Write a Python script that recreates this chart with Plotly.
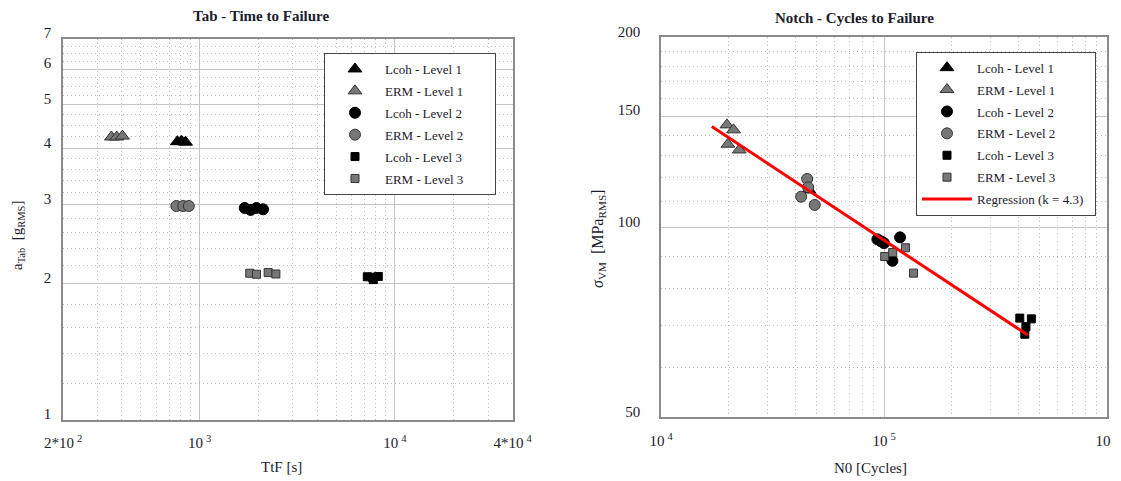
import math
import plotly.graph_objects as go

# Target picture size; the page body adds an 8px margin, so the figure is
# made smaller and all placements are expressed in picture pixels.
W, H = 1121, 481
OFF = 8
FW, FH = W - OFF, H - OFF


def fx(px):
    return (px - OFF) / FW


def fy(py):
    return 1 - (py - OFF) / FH


# ---------------- Data: Tab - Time to Failure ----------------
tab_lcoh1_t = [770, 808, 848]
tab_lcoh1_a = [4.14, 4.15, 4.13]
tab_erm1_t = [354, 377, 403]
tab_erm1_a = [4.24, 4.24, 4.26]
tab_lcoh2_t = [1703, 1829, 1957, 2115]
tab_lcoh2_a = [2.95, 2.92, 2.95, 2.93]
tab_erm2_t = [761, 825, 881]
tab_erm2_a = [2.98, 2.98, 2.98]
tab_lcoh3_t = [7222, 7660, 8225, 7752]
tab_lcoh3_a = [2.075, 2.07, 2.078, 2.045]
tab_erm3_t = [1807, 1957, 2245, 2459]
tab_erm3_a = [2.113, 2.102, 2.12, 2.105]

# ---------------- Data: Notch - Cycles to Failure ----------------
notch_lcoh1_n = [46090]
notch_lcoh1_s = [114.6]
notch_erm1_n = [19750, 21150, 19960, 22430]
notch_erm1_s = [145.3, 142.7, 135.4, 132.6]
notch_lcoh2_n = [93400, 97000, 100000, 118000, 109100]
notch_lcoh2_s = [95.7, 95.0, 94.4, 96.4, 88.5]
notch_erm2_n = [45230, 45710, 42500, 48930]
notch_erm2_s = [119.3, 115.7, 111.8, 108.5]
notch_lcoh3_n = [406400, 458000, 433000, 428000]
notch_lcoh3_s = [71.8, 71.6, 69.6, 67.7]
notch_erm3_n = [100700, 109400, 124800, 135600]
notch_erm3_s = [89.9, 91.2, 92.8, 84.6]
reg_n = [16900, 441000]
reg_s = [144.4, 67.5]

series_names = ["Lcoh - Level 1", "ERM - Level 1", "Lcoh - Level 2",
                "ERM - Level 2", "Lcoh - Level 3", "ERM - Level 3"]
reg_name = "Regression (k = 4.3)"

# tick labels
left_x_ticks = [200, 1000, 10000, 40000]
left_x_text = ["2*10\u2009<sup>2</sup>", "10\u2009<sup>3</sup>",
               "10\u2009<sup>4</sup>", "4*10\u2009<sup>4</sup>"]
left_y_ticks = [1, 2, 3, 4, 5, 6, 7]
right_x_ticks = [1e4, 1e5, 1e6]
right_x_text = ["10\u2009<sup>4</sup>", "10\u2009<sup>5</sup>", "10\u2009<sup>6</sup>"]
right_y_ticks = [50, 100, 150, 200]

FONT = "Liberation Serif"
TXT = "#1b1b2b"
BLACK = "#000000"
GRAY = "#777777"
EDGE = "#333333"

styles = [
    ("triangle-up", BLACK, BLACK, 12),
    ("triangle-up", GRAY, EDGE, 12),
    ("circle", BLACK, BLACK, 11),
    ("circle", GRAY, EDGE, 11),
    ("square", BLACK, BLACK, 8),
    ("square", GRAY, EDGE, 8),
]

fig = go.Figure()

left_data = [(tab_lcoh1_t, tab_lcoh1_a), (tab_erm1_t, tab_erm1_a),
             (tab_lcoh2_t, tab_lcoh2_a), (tab_erm2_t, tab_erm2_a),
             (tab_lcoh3_t, tab_lcoh3_a), (tab_erm3_t, tab_erm3_a)]
right_data = [(notch_lcoh1_n, notch_lcoh1_s), (notch_erm1_n, notch_erm1_s),
              (notch_lcoh2_n, notch_lcoh2_s), (notch_erm2_n, notch_erm2_s),
              (notch_lcoh3_n, notch_lcoh3_s), (notch_erm3_n, notch_erm3_s)]

PAD_L = "\u00a0" * 8
PAD_R = "\u00a0" * 2
for i, ((x, y), name, (sym, fill, edge, size)) in enumerate(zip(left_data, series_names, styles)):
    fig.add_trace(go.Scatter(
        x=x, y=y, mode="markers", name=name + PAD_L, legend="legend",
        legendgroup="L%d" % i, xaxis="x", yaxis="y",
        marker=dict(symbol=sym, color=fill, size=size, line=dict(color=edge, width=1)),
    ))
for i, ((x, y), name, (sym, fill, edge, size)) in enumerate(zip(right_data, series_names, styles)):
    fig.add_trace(go.Scatter(
        x=x, y=y, mode="markers", name=name + PAD_R, legend="legend2",
        legendgroup="R%d" % i, xaxis="x2", yaxis="y2",
        marker=dict(symbol=sym, color=fill, size=size, line=dict(color=edge, width=1)),
    ))
fig.add_trace(go.Scatter(
    x=reg_n, y=reg_s, mode="lines", name=reg_name + PAD_R, legend="legend2",
    legendgroup="Rreg", xaxis="x2", yaxis="y2", line=dict(color="#ff0000", width=3),
))

tickfont = dict(family=FONT, size=15, color=TXT)
GRID = "#c4c4c4"
MINOR = "#bdbdbd"
LINE = "#8a8a8a"


def axis_common():
    return dict(type="log", showline=True, mirror=True, linecolor=LINE, linewidth=1.5,
                showgrid=True, gridcolor=GRID, gridwidth=1, zeroline=False,
                ticks="", tickfont=tickfont, tickmode="array", fixedrange=True,
                automargin=False, ticklabeloverflow="allow")


left_x_minor = [300, 400, 500, 600, 700, 800, 900,
                2000, 3000, 4000, 5000, 6000, 7000, 8000, 9000, 20000, 30000]
left_y_minor = [1.2, 1.4, 1.6, 1.8, 2.2, 2.4, 2.6, 2.8, 3.2, 3.4, 3.6, 3.8,
                4.25, 4.5, 4.75, 5.25, 5.5, 5.75, 6.25, 6.5, 6.75]
right_x_minor = [2e4, 3e4, 4e4, 5e4, 6e4, 7e4, 8e4, 9e4,
                 2e5, 3e5, 4e5, 5e5, 6e5, 7e5, 8e5, 9e5]
right_y_minor = [60, 70, 80, 90, 110, 120, 130, 140, 160, 170, 180, 190]


def minor(vals):
    return dict(tickmode="array", tickvals=vals, showgrid=True, gridcolor=MINOR,
                griddash="1px,3px", gridwidth=1, ticks="")


xa = axis_common()
xa.update(domain=[fx(63), fx(512.5)], range=[math.log10(200), math.log10(40000)],
          tickvals=left_x_ticks, ticktext=left_x_text, minor=minor(left_x_minor),
          anchor="y", ticklabelstandoff=9)
ya = axis_common()
ya.update(domain=[fy(419.5), fy(39)], range=[0, math.log10(7)],
          tickvals=left_y_ticks, ticktext=[str(v) for v in left_y_ticks],
          minor=minor(left_y_minor), anchor="x", ticklabelshift=-6, ticklabelstandoff=7)
xa2 = axis_common()
xa2.update(domain=[fx(661), fx(1107)], range=[4, 6],
           tickvals=right_x_ticks, ticktext=right_x_text, minor=minor(right_x_minor),
           anchor="y2", ticklabelstandoff=9)
ya2 = axis_common()
ya2.update(domain=[fy(417.3), fy(37.3)], range=[math.log10(50), math.log10(200)],
           tickvals=right_y_ticks, ticktext=[str(v) for v in right_y_ticks],
           minor=minor(right_y_minor), anchor="x2", ticklabelshift=-6, ticklabelstandoff=16)

legend_common = dict(bgcolor="white", bordercolor="#444444", borderwidth=1,
                     font=dict(family=FONT, size=13, color=TXT),
                     xanchor="left", yanchor="top", xref="paper", yref="paper",
                     itemwidth=50, tracegroupgap=2, itemclick=False,
                     itemdoubleclick=False)

ann_font = dict(family=FONT, size=15, color=TXT)
annotations = [
    dict(text="<b>Tab - Time to Failure</b>", x=fx(261), y=fy(16),
         font=dict(family=FONT, size=15, color=TXT)),
    dict(text="<b>Notch - Cycles to Failure</b>", x=fx(854), y=fy(18),
         font=dict(family=FONT, size=15, color=TXT)),
    dict(text="TtF [s]", x=fx(281), y=fy(467), font=ann_font),
    dict(text="N0 [Cycles]", x=fx(870), y=fy(468), font=ann_font),
    dict(text="a<sub>Tab</sub>  [g<sub>RMS</sub>]", x=fx(18), y=fy(236),
         textangle=-90, font=ann_font),
    dict(text="<i>σ</i><sub>VM</sub>  [MPa<sub>RMS</sub>]", x=fx(598), y=fy(239),
         textangle=-90, font=dict(family=FONT, size=16, color=TXT)),
]
for a in annotations:
    a.update(xref="paper", yref="paper", showarrow=False, xanchor="center", yanchor="middle")

fig.update_layout(
    width=FW, height=FH,
    margin=dict(l=0, r=0, t=0, b=0, autoexpand=False),
    paper_bgcolor="white", plot_bgcolor="white",
    font=dict(family=FONT, color=TXT),
    xaxis=xa, yaxis=ya, xaxis2=xa2, yaxis2=ya2,
    legend=dict(legend_common, x=fx(324), y=fy(53)),
    legend2=dict(legend_common, x=fx(916), y=fy(51.7)),
    annotations=annotations,
    showlegend=True,
)

fig.write_html("out.html")
